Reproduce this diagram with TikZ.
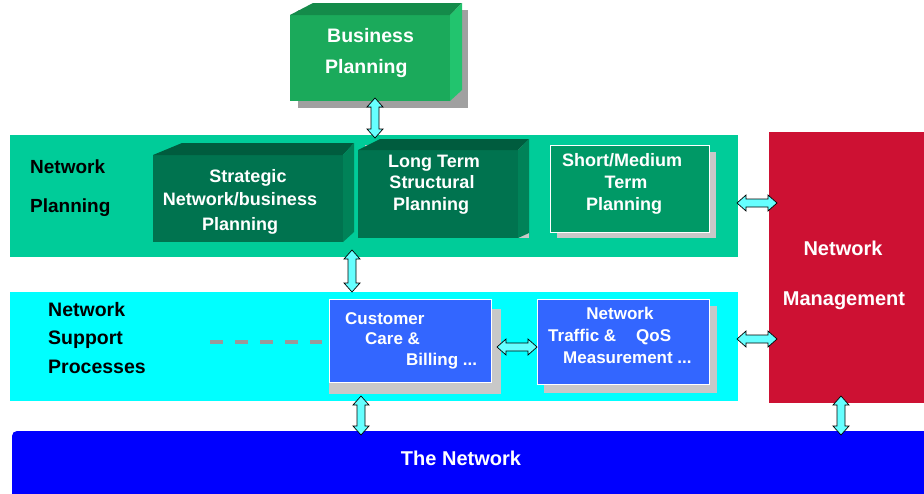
\documentclass[tikz,border=0pt]{standalone}
\usepackage{fontspec}
\setmainfont{Liberation Sans}
\usetikzlibrary{calc}
\definecolor{bandgreen}{HTML}{00CC99}
\definecolor{darkfront}{HTML}{00734F}
\definecolor{darktop}{HTML}{005C3E}
\definecolor{darkside}{HTML}{008258}
\definecolor{midgreen}{HTML}{009966}
\definecolor{bizfront}{HTML}{1BAA5B}
\definecolor{biztop}{HTML}{148B4A}
\definecolor{bizside}{HTML}{22C46E}
\definecolor{shadowgray}{HTML}{C8C8C8}
\definecolor{bizshadow}{HTML}{A0A0A0}
\definecolor{bandcyan}{HTML}{00FFFF}
\definecolor{procblue}{HTML}{3366FF}
\definecolor{mgmtred}{HTML}{CD1133}
\definecolor{netblue}{HTML}{0000FF}
\definecolor{arrowcyan}{HTML}{66FFFF}
\definecolor{dashgray}{HTML}{999999}
\tikzset{
  boxnode/.style={inner sep=0pt, outer sep=0pt, anchor=north west},
  whitetxt/.style={text=white, font=\bfseries\fontsize{18}{20}\selectfont, inner sep=0pt, anchor=base},
  blacktxt/.style={text=black, font=\bfseries\fontsize{19}{21}\selectfont, inner sep=0pt, anchor=base west},
  blockarrow/.style={draw=black, fill=arrowcyan, line width=0.7pt, line join=miter},
}
\newcommand\myvarrow[2]{\draw[blockarrow] let \p1=(#1), \p2=(#2) in
 (\x1,\y1) -- (\x1+8pt,\y1-9pt) -- (\x1+4pt,\y1-9pt) -- (\x1+4pt,\y2+9pt) -- (\x1+8pt,\y2+9pt) -- (\x1,\y2) -- (\x1-8pt,\y2+9pt) -- (\x1-4pt,\y2+9pt) -- (\x1-4pt,\y1-9pt) -- (\x1-8pt,\y1-9pt) -- cycle;}
\newcommand\myharrow[2]{\draw[blockarrow] let \p1=(#1), \p2=(#2) in
 (\x1,\y1) -- (\x1+9pt,\y1+8pt) -- (\x1+9pt,\y1+4pt) -- (\x2-9pt,\y1+4pt) -- (\x2-9pt,\y1+8pt) -- (\x2,\y1) -- (\x2-9pt,\y1-8pt) -- (\x2-9pt,\y1-4pt) -- (\x1+9pt,\y1-4pt) -- (\x1+9pt,\y1-8pt) -- cycle;}
\begin{document}
\begin{tikzpicture}[x=1pt,y=-1pt]
\useasboundingbox (0,0) rectangle (924,493);
\fill[white] (0,0) rectangle (924,493);

% ---------- Business Planning ----------
\fill[bizshadow] (298,10) rectangle (468,108);
\node[boxnode, fill=bizfront, minimum width=160pt, minimum height=86pt] (bp) at (290,15) {};
\fill[biztop] (bp.north west) -- (313,3) -- (462,3) -- (bp.north east) -- cycle;
\fill[bizside] (bp.north east) -- (462,3) -- (462,90) -- (bp.south east) -- cycle;
\node[whitetxt, font=\bfseries\fontsize{19.5}{21}\selectfont, anchor=base west] (bpt1) at (327,42) {Business};
\node[whitetxt, font=\bfseries\fontsize{19.5}{21}\selectfont, anchor=base west] (bpt2) at (325,73) {Planning};

% ---------- Network Planning band ----------
\node[boxnode, fill=bandgreen, minimum width=728pt, minimum height=122pt] (np) at (10,135) {};
\node[blacktxt] (npt1) at (30,173) {Network};
\node[blacktxt] (npt2) at (30,212) {Planning};

% Strategic
\node[boxnode, fill=darkfront, minimum width=190pt, minimum height=87pt] (sn) at (153,155) {};
\fill[darktop] (sn.north west) -- (182,143) -- (354,143) -- (sn.north east) -- cycle;
\fill[darkside] (sn.north east) -- (354,143) -- (354,232) -- (sn.south east) -- cycle;
\node[whitetxt] (snt1) at (248,182) {Strategic};
\node[whitetxt] (snt2) at (240,205) {Network/business};
\node[whitetxt] (snt3) at (240,230) {Planning};

% Long Term
\fill[shadowgray] (365,145) rectangle (529,238);
\node[boxnode, fill=darkfront, minimum width=160pt, minimum height=88pt] (lt) at (358,150) {};
\fill[darktop] (lt.north west) -- (380,139) -- (529,139) -- (lt.north east) -- cycle;
\fill[darkside] (lt.north east) -- (529,139) -- (529,233) -- (lt.south east) -- cycle;
\node[whitetxt] (ltt1) at (434,167) {Long Term};
\node[whitetxt] (ltt2) at (432,188) {Structural};
\node[whitetxt] (ltt3) at (431,210) {Planning};

% Short/Medium
\fill[shadowgray] (557,152) rectangle (716,238);
\node[boxnode, fill=midgreen, draw=white, line width=1pt, minimum width=159pt, minimum height=87pt] (sm) at (550,145) {};
\node[whitetxt] (smt1) at (622,166) {Short/Medium};
\node[whitetxt] (smt2) at (626,188) {Term};
\node[whitetxt] (smt3) at (624,210) {Planning};

% ---------- Network Management ----------
\node[boxnode, fill=mgmtred, minimum width=155pt, minimum height=271pt] (nm) at (769,132) {};
\node[whitetxt, font=\bfseries\fontsize{20}{22}\selectfont] (nmt1) at (843,255) {Network};
\node[whitetxt, font=\bfseries\fontsize{20}{22}\selectfont] (nmt2) at (844,305) {Management};

% ---------- Network Support Processes ----------
\node[boxnode, fill=bandcyan, minimum width=728pt, minimum height=109pt] (ns) at (10,292) {};
\node[blacktxt, font=\bfseries\fontsize{19.5}{21}\selectfont] (nst1) at (48,316) {Network};
\node[blacktxt, font=\bfseries\fontsize{19.5}{21}\selectfont] (nst2) at (48,344) {Support};
\node[blacktxt, font=\bfseries\fontsize{19.5}{21}\selectfont] (nst3) at (48,373) {Processes};

% Customer Care
\fill[shadowgray] (329,309) rectangle (501,394);
\node[boxnode, fill=procblue, draw=white, line width=1pt, minimum width=162pt, minimum height=83pt] (cc) at (329,299) {};
\node[whitetxt, font=\bfseries\fontsize{17}{19}\selectfont, anchor=base west] (cct1) at (345,324) {Customer};
\node[whitetxt, font=\bfseries\fontsize{17}{19}\selectfont, anchor=base west] (cct2) at (365,344) {Care \&};
\node[whitetxt, font=\bfseries\fontsize{17}{19}\selectfont, anchor=base west] (cct3) at (406,365) {Billing ...};

% Network Traffic
\fill[shadowgray] (544,306) rectangle (717,393);
\node[boxnode, fill=procblue, draw=white, line width=1pt, minimum width=172pt, minimum height=85pt] (tq) at (537,299) {};
\node[whitetxt, font=\bfseries\fontsize{17}{19}\selectfont] (tqt1) at (620,319) {Network};
\node[whitetxt, font=\bfseries\fontsize{17}{19}\selectfont, anchor=base west] (tqt2) at (548,341) {Traffic \&};
\node[whitetxt, font=\bfseries\fontsize{17}{19}\selectfont, anchor=base west] (tqt3) at (636,341) {QoS};
\node[whitetxt, font=\bfseries\fontsize{17}{19}\selectfont, anchor=base west] (tqt4) at (563,363) {Measurement ...};

% dashed link
\coordinate (dstart) at (210,342);
\coordinate (dend) at (cc.west |- dstart);
\draw[dashgray, line width=4pt, dash pattern=on 12.7pt off 12.3pt] (dstart) -- ($(dend)+(-7,0)$);

% ---------- The Network ----------
\fill[netblue, rounded corners=5pt] (12,431) rectangle (934,503);
\node[whitetxt, font=\bfseries\fontsize{20}{22}\selectfont] (tn) at (461,465) {The Network};

% ---------- arrows ----------
\coordinate (a1s) at (375,98);  \coordinate (a1e) at (375,138);
\coordinate (a2s) at (352,250); \coordinate (a2e) at (352,292);
\coordinate (a3s) at (737,203); \coordinate (a3e) at (777,203);
\coordinate (a4s) at (737,339); \coordinate (a4e) at (777,339);
\coordinate (a5s) at (497,347); \coordinate (a5e) at (537,347);
\coordinate (a6s) at (361,396); \coordinate (a6e) at (361,435);
\coordinate (a7s) at (841,396); \coordinate (a7e) at (841,435);
\myvarrow{a1s}{a1e}
\myvarrow{a2s}{a2e}
\myharrow{a3s}{a3e}
\myharrow{a4s}{a4e}
\myharrow{a5s}{a5e}
\myvarrow{a6s}{a6e}
\myvarrow{a7s}{a7e}
\end{tikzpicture}
\end{document}
